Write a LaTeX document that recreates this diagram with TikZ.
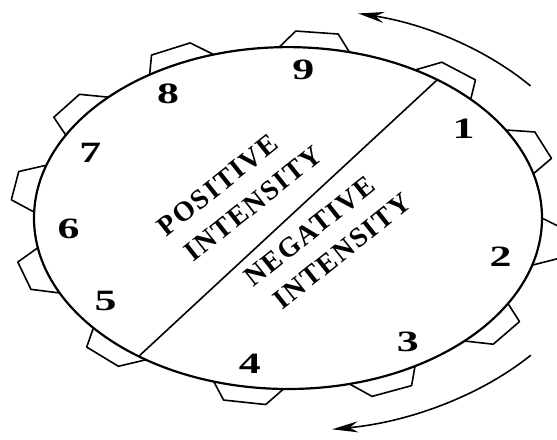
\documentclass[tikz,border=0pt]{standalone}
\usepackage{fontspec}
\setmainfont{Liberation Serif}
\usepackage{tikz}
\usetikzlibrary{arrows.meta}

\begin{document}
\begin{tikzpicture}[>={Stealth[length=26bp,width=11bp]}, x=1bp, y=1bp, yscale=0.673,
    numlabel/.style={font=\bfseries\fontsize{44}{48}\selectfont, transform shape, inner sep=0pt},
    bandtext/.style={font=\bfseries\fontsize{28}{32}\selectfont\addfontfeature{LetterSpace=6},
        inner sep=0pt, rotate=38.5}]

    \useasboundingbox (-288,-328.4) rectangle (269,324);
    \clip (-288,-328.4) rectangle (269,324);

    \def\R{254}     % 圆盘半径
    \def\T{278}     % 齿顶半径

    % 圆盘
    \draw[line width=2.2bp] (0,0) circle[radius=\R];

    % 齿
    \foreach \a in {23,52,84,115,143,170,198,228,261,292,322,352}
        \draw[line width=1.6bp, line join=round] ({\a-8}:\R) -- ({\a-4.4}:\T) -- ({\a+4.4}:\T) -- ({\a+8}:\R);

    % 分界直径
    \draw[line width=1.6bp] (234:\R) -- (54:\R);

    % 编号
    \foreach \n/\a in {1/37,2/345,3/303,4/260,5/214,6/184,7/154,8/123,9/86}
        \node[numlabel] (n\n) at (\a:220) {\n};

    % 正负区域文字
    \node[bandtext] (pos1) at (-70,49) {POSITIVE};
    \node[bandtext] (pos2) at (-34.5,21.5) {INTENSITY};
    \node[bandtext] (neg1) at (21.5,-20) {NEGATIVE};
    \node[bandtext] (neg2) at (54.5,-49) {INTENSITY};

    % 旋转方向
    \draw[->, line width=1.6bp] (39:312) arc[start angle=39, end angle=77, radius=312];
    \draw[->, line width=1.6bp] (-40:317) arc[start angle=-40, end angle=-82, radius=317];
\end{tikzpicture}
\end{document}
